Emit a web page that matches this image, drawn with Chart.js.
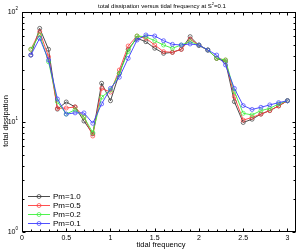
<!DOCTYPE html>
<html>
<head>
<meta charset="utf-8">
<script src="https://cdn.jsdelivr.net/npm/chart.js@4.4.1/dist/chart.umd.min.js"></script>
<style>
  html, body { margin: 0; padding: 0; background: #fff; }
</style>
</head>
<body>
<canvas id="chart" width="301" height="250"></canvas>
<script>
// ---- data ----
const freq = [0.1, 0.2, 0.3, 0.4, 0.5, 0.6, 0.7, 0.8, 0.9, 1.0,
              1.1, 1.2, 1.3, 1.4, 1.5, 1.6, 1.7, 1.8, 1.9, 2.0,
              2.1, 2.2, 2.3, 2.4, 2.5, 2.6, 2.7, 2.8, 2.9, 3.0];
const pm10 = [40.6, 71.0, 45.8, 13.1, 15.2, 13.7, 10.2, 7.8, 22.5, 15.6,
              27.7, 45.8, 57.7, 53.7, 46.8, 42.1, 43.0, 45.8, 59.7, 49.5,
              45.1, 37.9, 35.3, 15.3, 9.9, 10.6, 11.8, 12.7, 14.0, 15.6];
const pm05 = [45.8, 66.2, 39.2, 13.3, 13.4, 13.7, 11.1, 7.46, 20.2, 18.7,
              29.7, 49.1, 60.5, 57.7, 50.1, 43.6, 43.0, 45.8, 56.5, 50.1,
              45.1, 37.9, 36.6, 17.0, 10.4, 11.0, 11.8, 12.7, 14.0, 15.6];
const pm02 = [45.8, 61.8, 35.3, 15.3, 11.8, 12.9, 11.1, 8.0, 16.8, 19.5,
              27.7, 43.6, 60.5, 59.5, 54.8, 50.1, 46.8, 50.1, 53.7, 50.1,
              45.1, 37.9, 36.6, 18.9, 12.0, 11.6, 12.7, 13.3, 14.6, 15.6];
const pm01 = [40.6, 57.7, 36.6, 16.2, 11.8, 12.1, 12.1, 9.73, 14.6, 20.2,
              25.5, 37.9, 55.6, 61.8, 60.5, 54.8, 50.8, 50.1, 51.2, 50.1,
              45.1, 40.6, 33.0, 20.2, 14.1, 13.0, 13.6, 14.3, 15.0, 15.6];

const seriesLabels = ['Pm=1.0', 'Pm=0.5', 'Pm=0.2', 'Pm=0.1'];
const xTicks = [0, 0.5, 1, 1.5, 2, 2.5, 3];
const xTickLabels = ['0', '0.5', '1', '1.5', '2', '2.5', '3'];
const yTicks = [1, 10, 100];
const yTickExps = ['0', '1', '2'];

const colors = ['#383838', '#ff3c3c', '#3cf03c', '#3c3cff'];
const FONT = '"Liberation Sans", Arial, sans-serif';

function series(vals, i) {
  return {
    label: seriesLabels[i],
    data: freq.map((f, k) => ({ x: f, y: vals[k] })),
    borderColor: colors[i],
    backgroundColor: 'rgba(0,0,0,0)',
    pointBorderColor: colors[i],
    pointBackgroundColor: 'rgba(0,0,0,0)',
    borderWidth: 0.9,
    pointRadius: 2,
    pointBorderWidth: 0.7,
    tension: 0,
    order: 3 - i   // later series on top, like the original
  };
}

// axes box, inside ticks, labels, title, legend
const frame = {
  id: 'frame',
  afterDraw(chart) {
    const { ctx, chartArea: a, scales: { x, y } } = chart;
    const L = Math.round(a.left) + 0.5, R = Math.round(a.right) - 0.5;
    const T = Math.round(a.top) + 0.5, B = Math.round(a.bottom) - 0.5;
    ctx.save();
    ctx.strokeStyle = '#000';
    ctx.lineWidth = 1;
    ctx.strokeRect(L, T, R - L, B - T);

    ctx.beginPath();
    for (let i = 1; i <= 30; i++) {
      const px = Math.round(x.getPixelForValue(i / 10)) + 0.5;
      const len = i % 5 === 0 ? 3 : 2;
      ctx.moveTo(px, B); ctx.lineTo(px, B - len);
      ctx.moveTo(px, T); ctx.lineTo(px, T + len);
    }
    for (let d = 0; d < 2; d++) {
      for (let m = 1; m <= 9; m++) {
        const py = Math.round(y.getPixelForValue(m * Math.pow(10, d))) + 0.5;
        const len = m === 1 ? 3 : 2;
        ctx.moveTo(L, py); ctx.lineTo(L + len, py);
        ctx.moveTo(R, py); ctx.lineTo(R - len, py);
      }
    }
    ctx.stroke();

    ctx.fillStyle = '#000';
    ctx.font = '7px ' + FONT;
    ctx.textAlign = 'center';
    ctx.textBaseline = 'middle';
    xTicks.forEach((v, i) => ctx.fillText(xTickLabels[i], x.getPixelForValue(v), 238));

    yTicks.forEach((v, i) => {
      const py = y.getPixelForValue(v);
      ctx.font = '4.5px ' + FONT;
      ctx.textAlign = 'left';
      ctx.fillText(yTickExps[i], 15.5, py - 3);
      ctx.font = '7px ' + FONT;
      ctx.textAlign = 'right';
      ctx.fillText('10', 15.5, py);
    });

    // axis titles
    ctx.font = '7.5px ' + FONT;
    ctx.textAlign = 'center';
    ctx.fillText('tidal frequency', 161, 245);
    ctx.save();
    ctx.translate(6, 121);
    ctx.rotate(-Math.PI / 2);
    ctx.fillText('total dissipation', 0, 0);
    ctx.restore();

    // title with superscript
    const t1 = 'total dissipation versus tidal frequency at S', sup = '2', t2 = '=0.1';
    ctx.font = '6px ' + FONT;
    const w1 = ctx.measureText(t1).width, w3 = ctx.measureText(t2).width;
    ctx.font = '4px ' + FONT;
    const w2 = ctx.measureText(sup).width;
    let sx = 162 - (w1 + w2 + w3) / 2;
    ctx.textAlign = 'left';
    ctx.font = '6px ' + FONT;
    ctx.fillText(t1, sx, 6);
    ctx.font = '4px ' + FONT;
    ctx.fillText(sup, sx + w1, 4);
    ctx.font = '6px ' + FONT;
    ctx.fillText(t2, sx + w1 + w2, 6);

    // legend
    ctx.font = '8px ' + FONT;
    chart.data.datasets.forEach((ds, i) => {
      const ly = 196.5 + i * 9;
      ctx.strokeStyle = ds.borderColor;
      ctx.lineWidth = 0.9;
      ctx.beginPath();
      ctx.moveTo(28, ly); ctx.lineTo(50, ly);
      ctx.stroke();
      ctx.lineWidth = 0.7;
      ctx.beginPath();
      ctx.arc(39, ly, 2, 0, Math.PI * 2);
      ctx.stroke();
      ctx.fillStyle = '#000';
      ctx.fillText(ds.label, 53, ly);
    });
    ctx.restore();
  }
};

new Chart(document.getElementById('chart'), {
  type: 'line',
  data: { datasets: [series(pm10, 0), series(pm05, 1), series(pm02, 2), series(pm01, 3)] },
  options: {
    responsive: false,
    animation: false,
    layout: { padding: { left: 22, top: 12, right: 1, bottom: 18 } },
    plugins: { legend: { display: false }, tooltip: { enabled: false }, title: { display: false } },
    scales: {
      x: { type: 'linear', min: 0, max: 3.1, display: false },
      y: { type: 'logarithmic', min: 1, max: 100, display: false }
    }
  },
  plugins: [frame]
});
</script>
</body>
</html>
